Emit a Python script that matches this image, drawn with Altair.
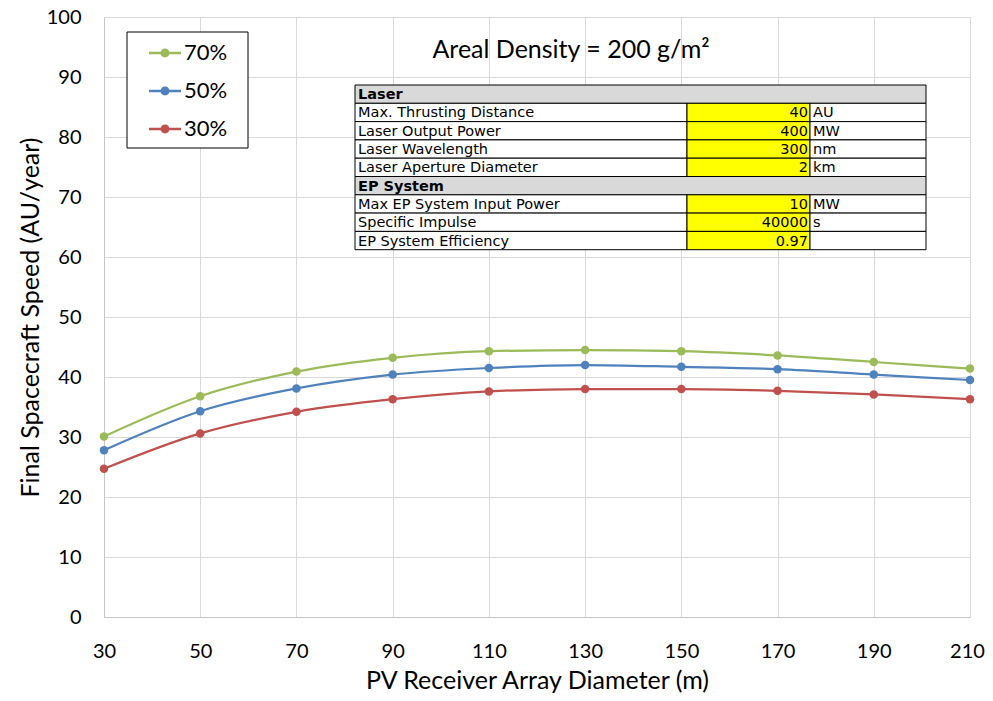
import altair as alt
import pandas as pd

# ---- data ----
diameters = [30, 50, 70, 90, 110, 130, 150, 170, 190, 210]
speed_70 = [30.1, 36.8, 40.9, 43.2, 44.3, 44.5, 44.3, 43.6, 42.5, 41.4]
speed_50 = [27.8, 34.3, 38.1, 40.4, 41.5, 42.0, 41.7, 41.3, 40.4, 39.5]
speed_30 = [24.7, 30.6, 34.2, 36.3, 37.6, 38.0, 38.0, 37.7, 37.1, 36.3]
series_names = ["70%", "50%", "30%"]
series_colors = ["#9bbb59", "#4f81bd", "#c0504d"]

table_labels = ["Laser", "Max. Thrusting Distance", "Laser Output Power", "Laser Wavelength",
                "Laser Aperture Diameter", "EP System", "Max EP System Input Power",
                "Specific Impulse", "EP System Efficiency"]
table_values = ["", "40", "400", "300", "2", "", "10", "40000", "0.97"]
table_units = ["", "AU", "MW", "nm", "km", "", "MW", "s", ""]
table_header = [True, False, False, False, False, True, False, False, False]

title_text = "Areal Density = 200 g/m\u00b2"

# ---- build tables ----
rows = []
for name, vals in zip(series_names, [speed_70, speed_50, speed_30]):
    for d, v in zip(diameters, vals):
        rows.append({"diameter": d, "speed": v, "series": name})
df = pd.DataFrame(rows)

# table geometry (pixels relative to plot area)
TL, TV, TU, TR = 251, 583, 706, 822
TTOP, RH = 68, 18.3
cells = []
texts = []
for i, (lab, val, unit, hdr) in enumerate(zip(table_labels, table_values, table_units, table_header)):
    y0 = TTOP + i * RH
    y1 = y0 + RH
    yc = (y0 + y1) / 2 + 1
    if hdr:
        cells.append({"x0": TL, "x1": TR, "y0": y0, "y1": y1, "fill": "#d9d9d9"})
        texts.append({"x": TL + 3, "y": yc, "t": lab, "al": "left", "bold": True})
    else:
        cells.append({"x0": TL, "x1": TV, "y0": y0, "y1": y1, "fill": "#ffffff"})
        cells.append({"x0": TV, "x1": TU, "y0": y0, "y1": y1, "fill": "#ffff00"})
        cells.append({"x0": TU, "x1": TR, "y0": y0, "y1": y1, "fill": "#ffffff"})
        texts.append({"x": TL + 3, "y": yc, "t": lab, "al": "left", "bold": False})
        texts.append({"x": TU - 2, "y": yc, "t": val, "al": "right", "bold": False})
        texts.append({"x": TU + 3, "y": yc, "t": unit, "al": "left", "bold": False})
# legend frame box
cells.append({"x0": 23, "x1": 144, "y0": 15, "y1": 131, "fill": "#ffffff"})
cells_df = pd.DataFrame(cells)
texts_df = pd.DataFrame(texts)

FONT = "Lato"

color_scale = alt.Scale(domain=series_names, range=series_colors)
x_enc = alt.X("diameter:Q", scale=alt.Scale(domain=[30, 210], nice=False),
              axis=alt.Axis(values=diameters, title="PV Receiver Array Diameter (m)",
                            labelFlush=False,
                            labelOffset=alt.ConditionalAxisNumber(
                                condition={"test": "datum.value == 210", "value": -3}, value=0),
                            titleX=433, titleY=71, titleBaseline="alphabetic", titleAlign="center"))
y_enc = alt.Y("speed:Q", scale=alt.Scale(domain=[0, 100], nice=False),
              axis=alt.Axis(values=list(range(0, 101, 10)), title="Final Spacecraft Speed (AU/year)",
                            labelFlush=False,
                            titleX=-74, titleY=300, titleAngle=-90, titleBaseline="middle",
                            titleAlign="center"))

legend_symbol = ("M-1,-0.08L-0.25,-0.08L-0.25,0.08L-1,0.08Z "
                 "M0.25,-0.08L1,-0.08L1,0.08L0.25,0.08Z "
                 "M0.28,0A0.28,0.28 0 1 1 -0.28,0A0.28,0.28 0 1 1 0.28,0Z")

legend = alt.Legend(title=None, orient="none", legendX=23, legendY=14,
                    symbolType=legend_symbol, symbolSize=1024,
                    symbolStrokeWidth=0, symbolOffset=16,
                    padding=6, rowPadding=11, labelOffset=3,
                    labelFontSize=22, labelFont=FONT, labelColor="#000000")

lines = alt.Chart(df).mark_line(interpolate="monotone", strokeWidth=2.25).encode(
    x=x_enc, y=y_enc,
    color=alt.Color("series:N", scale=color_scale, legend=legend),
)
points = alt.Chart(df).mark_point(filled=True, size=72, opacity=1).encode(
    x=x_enc, y=y_enc,
    color=alt.Color("series:N", scale=color_scale, legend=legend),
)
main = alt.layer(lines, points)

rects = alt.Chart(cells_df).mark_rect(stroke="#000000", strokeWidth=1).encode(
    x=alt.X("x0:Q", scale=None, axis=None), x2="x1:Q",
    y=alt.Y("y0:Q", scale=None, axis=None), y2="y1:Q",
    fill=alt.Fill("fill:N", scale=None),
)
tfont = "DejaVu Sans"
TFS = 14.5
left_plain = texts_df[(texts_df["al"] == "left") & (~texts_df["bold"])]
left_bold = texts_df[texts_df["bold"]]
right_txt = texts_df[texts_df["al"] == "right"]
tl = alt.Chart(left_plain).mark_text(
    align="left", baseline="middle", font=tfont, fontSize=TFS, color="#000000").encode(
    x=alt.X("x:Q", scale=None, axis=None), y=alt.Y("y:Q", scale=None, axis=None), text="t:N")
tb = alt.Chart(left_bold).mark_text(
    align="left", baseline="middle", font=tfont, fontSize=TFS, fontWeight="bold", color="#000000").encode(
    x=alt.X("x:Q", scale=None, axis=None), y=alt.Y("y:Q", scale=None, axis=None), text="t:N")
tr = alt.Chart(right_txt).mark_text(
    align="right", baseline="middle", font=tfont, fontSize=TFS, color="#000000").encode(
    x=alt.X("x:Q", scale=None, axis=None), y=alt.Y("y:Q", scale=None, axis=None), text="t:N")

title = alt.Chart(pd.DataFrame({"t": [title_text]})).mark_text(
    align="center", baseline="middle", font=FONT, fontSize=25, color="#000000").encode(
    x=alt.value(467), y=alt.value(33), text="t:N")

chart = alt.layer(main, rects, tl, tb, tr, title).resolve_scale(
    x="independent", y="independent"
).properties(
    width=866, height=600,
    autosize=alt.AutoSizeParams(type="none"),
    padding={"left": 96, "top": 9, "right": 15, "bottom": 76},
).configure_view(strokeWidth=0).configure_axis(
    labelFont=FONT, labelFontSize=20, labelColor="#000000",
    titleFont=FONT, titleFontSize=25, titleColor="#000000", titleFontWeight="normal",
    gridColor="#d9d9d9", gridWidth=1, domainColor="#c6c6c6", domainWidth=1,
    ticks=False,
).configure_axisX(labelPadding=24).configure_axisY(labelPadding=23)

chart.save("out.html", embed_options={"renderer": "svg", "actions": False})
